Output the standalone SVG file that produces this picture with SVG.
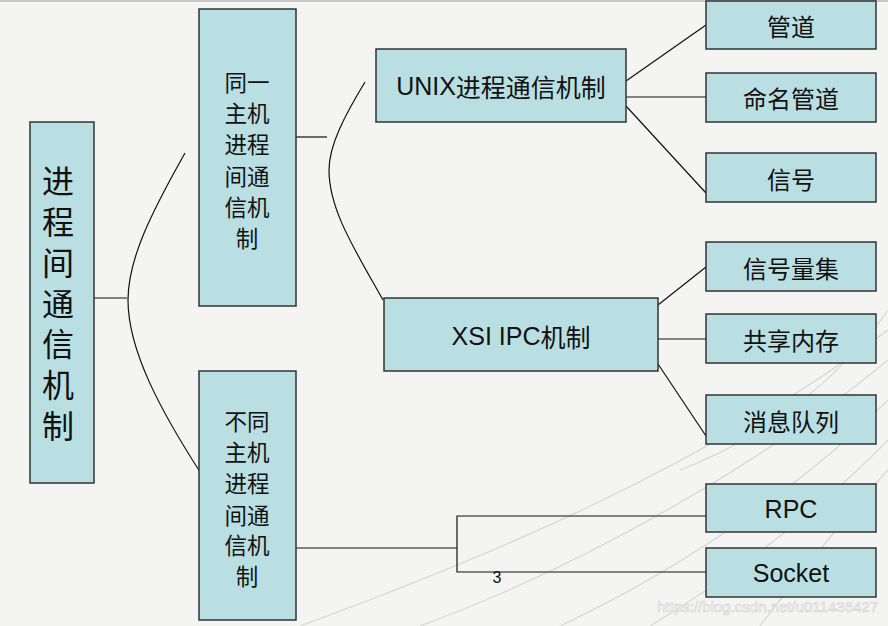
<svg xmlns="http://www.w3.org/2000/svg" width="888" height="626" viewBox="0 0 888 626">
<style>
.box{fill:#b9dfe2;stroke:#333;stroke-width:1.5}
.cn{font-family:"Noto Sans CJK SC","Liberation Sans",sans-serif;fill:#111;text-anchor:middle;dominant-baseline:central}
.lt{font-family:"Liberation Sans","Noto Sans CJK SC",sans-serif;fill:#111;text-anchor:middle;dominant-baseline:central}
.ln{fill:none;stroke:#111;stroke-width:1.2}
.bg{fill:none;stroke:#d6d6d6;stroke-width:1.2}
</style>
<rect x="0" y="0" width="888" height="626" fill="#f4f4f3"/>
<rect x="0" y="0" width="888" height="2" fill="#c8c8cc"/>
<g id="background">
<path class="bg" d="M300,626 C480,560 700,470 888,330"/>
<path class="bg" d="M420,626 C600,560 780,450 888,360"/>
<path class="bg" d="M560,626 C700,560 820,470 888,400"/>
<path class="bg" d="M650,626 C760,560 850,480 888,440"/>
<path class="bg" d="M760,626 C810,560 860,500 888,470"/>
<path class="bg" d="M680,470 C760,440 840,380 888,310"/>
</g>
<g id="connectors">
<line class="ln" x1="94" y1="298" x2="127" y2="298"/>
<path class="ln" d="M185,153 C150,215 128,260 128,300 C128,350 160,410 202,475"/>
<line class="ln" x1="296" y1="137" x2="327" y2="137"/>
<path class="ln" d="M365,82 C345,115 329,145 329,170 C329,210 355,250 383,300"/>
<line class="ln" x1="626" y1="81" x2="706" y2="25"/>
<line class="ln" x1="626" y1="97" x2="706" y2="97"/>
<line class="ln" x1="626" y1="106" x2="706" y2="193"/>
<line class="ln" x1="658" y1="305" x2="706" y2="267"/>
<line class="ln" x1="658" y1="339" x2="706" y2="339"/>
<line class="ln" x1="658" y1="364" x2="706" y2="436"/>
<polyline class="ln" points="296,548 457,548"/>
<polyline class="ln" points="706,516 457,516 457,572 706,572"/>
</g>
<g id="n-root">
<rect class="box" x="30" y="122" width="64" height="361"/>
<text font-family="Noto Sans CJK SC, sans-serif" font-size="32" fill="#111" writing-mode="vertical-rl" letter-spacing="8.8" x="58" y="165">进程间通信机制</text>
</g>
<g id="n-same">
<rect class="box" x="199" y="9" width="97" height="297"/>
<text class="cn" font-size="22.5"><tspan x="247" y="81">同一</tspan><tspan x="247" y="112">主机</tspan><tspan x="247" y="143">进程</tspan><tspan x="247" y="175">间通</tspan><tspan x="247" y="206">信机</tspan><tspan x="247" y="237">制</tspan></text>
</g>
<g id="n-diff">
<rect class="box" x="199" y="371" width="97" height="249"/>
<text class="cn" font-size="22.5"><tspan x="247" y="420">不同</tspan><tspan x="247" y="451">主机</tspan><tspan x="247" y="482">进程</tspan><tspan x="247" y="514">间通</tspan><tspan x="247" y="544">信机</tspan><tspan x="247" y="575">制</tspan></text>
</g>
<g id="n-unix">
<rect class="box" x="376" y="49" width="250" height="73"/>
<text class="lt" font-size="25" x="501" y="86">UNIX<tspan font-family="Noto Sans CJK SC">进程通信机制</tspan></text>
</g>
<g id="n-xsi">
<rect class="box" x="384" y="298" width="274" height="73"/>
<text class="lt" font-size="25" x="521" y="336">XSI IPC<tspan font-family="Noto Sans CJK SC">机制</tspan></text>
</g>
<g id="n-pipe">
<rect class="box" x="706" y="1" width="170" height="48"/>
<text class="cn" font-size="24" x="791" y="25">管道</text>
</g>
<g id="n-fifo">
<rect class="box" x="706" y="73" width="170" height="49"/>
<text class="cn" font-size="24" x="791" y="97">命名管道</text>
</g>
<g id="n-signal">
<rect class="box" x="706" y="153" width="170" height="49"/>
<text class="cn" font-size="24" x="791" y="178">信号</text>
</g>
<g id="n-sem">
<rect class="box" x="706" y="242" width="170" height="49"/>
<text class="cn" font-size="24" x="791" y="267">信号量集</text>
</g>
<g id="n-shm">
<rect class="box" x="706" y="314" width="170" height="49"/>
<text class="cn" font-size="24" x="791" y="339">共享内存</text>
</g>
<g id="n-msg">
<rect class="box" x="706" y="395" width="170" height="49"/>
<text class="cn" font-size="24" x="791" y="420">消息队列</text>
</g>
<g id="n-rpc">
<rect class="box" x="706" y="484" width="170" height="48"/>
<text class="lt" font-size="25" x="791" y="509">RPC</text>
</g>
<g id="n-socket">
<rect class="box" x="706" y="548" width="170" height="49"/>
<text class="lt" font-size="25" x="791" y="573">Socket</text>
</g>
<text class="lt" font-size="16" x="497" y="577">3</text>
<text font-family="Liberation Sans,sans-serif" font-size="15" x="878" y="612" text-anchor="end" fill="#ffffff" stroke="#d0d0d0" stroke-width="0.6">https://blog.csdn.net/u011436427</text>
</svg>
